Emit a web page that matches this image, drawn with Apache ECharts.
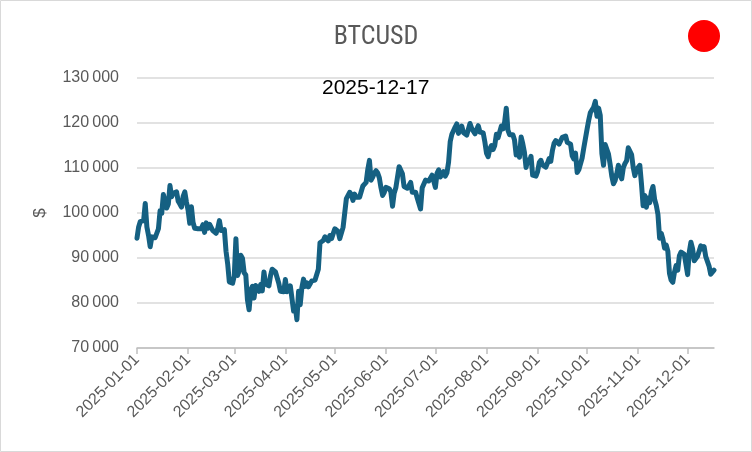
<!DOCTYPE html>
<html>
<head>
<meta charset="utf-8">
<script src="https://cdn.jsdelivr.net/npm/echarts@6/dist/echarts.min.js"></script>
<style>
  html, body { margin: 0; padding: 0; background: #fff; }
  #main { width: 752px; height: 452px; }
</style>
</head>
<body>
<div id="main"></div>
<script>
// daily closes, one array per month
var jan = [94400, 96900, 98100, 98200, 98300, 102100, 96900, 95000, 92500, 94700,
  94600, 94500, 94500, 96500, 100500, 99900, 104100, 104400, 101100, 102000,
  106100, 103600, 104400, 104700, 104700, 102600, 102000, 101300, 103700, 104700, 102400];
var feb = [100600, 97700, 101400, 97900, 96600, 96600, 96500, 96600, 96500, 97400,
  95700, 97800, 96600, 97500, 97600, 96100, 95800, 95500, 96600, 98300,
  96100, 96500, 96300, 91500, 88700, 84700, 84400, 84400];
var mar = [86000, 94300, 86100, 87200, 90600, 89900, 86700, 86200, 80700, 78500,
  82900, 83700, 81100, 83900, 84300, 82600, 84100, 82700, 86900, 84200,
  84000, 83800, 86100, 87500, 87400, 86900, 87200, 84400, 82600, 82300, 82500];
var apr = [85200, 82500, 83100, 83800, 83500, 78200, 79200, 76300, 82600, 79600,
  83400, 85300, 83700, 84500, 83600, 84000, 84900, 84500, 85100, 85100,
  87500, 93400, 93700, 93900, 94700, 94600, 93800, 95000, 94300, 94200];
var may = [96500, 96900, 95900, 94300, 94700, 96800, 97000, 103200, 102900, 104600,
  104100, 102800, 104200, 103500, 103700, 103500, 103200, 106000, 105600, 106800,
  109700, 111700, 107300, 108000, 108900, 109400, 108900, 107800, 105600, 103900, 104600];
var jun = [105700, 105900, 105400, 104700, 101500, 104400, 105600, 105800, 110300, 110300,
  108700, 105900, 106100, 105500, 105600, 106800, 104600, 104900, 104600, 103300,
  102100, 100900, 105600, 106000, 107300, 106900, 107100, 107300, 108400, 107100];
var jul = [105700, 108800, 109600, 108000, 108200, 109200, 108200, 108900, 111300, 115900,
  117500, 117400, 119100, 119800, 117700, 118700, 119300, 117900, 117900, 117300,
  117400, 119900, 118800, 118400, 117600, 117900, 119400, 118000, 117900, 117800, 115800];
var aug = [113300, 112500, 114200, 115000, 114100, 115000, 117500, 116700, 116500, 119300,
  118700, 120200, 123300, 118400, 117400, 117500, 117400, 116200, 112900, 114300,
  112400, 116900, 115400, 113500, 110100, 111800, 111300, 112600, 108400, 108800, 108200];
var sep = [109200, 111200, 111700, 110700, 110700, 110200, 111100, 112100, 111500, 113900,
  115500, 116100, 115900, 115300, 115400, 116800, 116500, 117100, 115700, 115700,
  115300, 112700, 112000, 113300, 109000, 109600, 109600, 112200, 114400, 114100];
var oct = [118600, 120600, 122300, 122400, 123500, 124800, 121500, 123300, 121700, 113200,
  110600, 115200, 115300, 113100, 110800, 108200, 106500, 107200, 108700, 110600,
  108500, 107600, 110100, 111000, 111600, 114500, 114100, 113000, 110100, 108300, 109600];
var nov = [110100, 110600, 106500, 101600, 103900, 101300, 103300, 102300, 104700, 105900,
  103000, 101700, 99700, 94400, 95500, 94200, 92200, 92900, 91500, 86600,
  85100, 84600, 86800, 88300, 87300, 90500, 91300, 90900, 90800, 90400];
var dec = [86300, 91300, 93500, 92100, 89400, 89300, 90400, 90600, 92700, 92000,
  92500, 90300, 90300, 88200, 86400, 86500, 87300];

var closes = [].concat(jan, feb, mar, apr, may, jun, jul, aug, sep, oct, nov, dec);

// one date per close, starting 2025-01-01
var dates = [];
for (var i = 0; i < closes.length; i++) {
  var d = new Date(Date.UTC(2025, 0, 1 + i));
  dates.push(d.toISOString().slice(0, 10));
}

var yTicks = { min: 70000, max: 130000, step: 10000 };

function isMonthStart(index, value) {
  return value.slice(8) === '01';
}

var grey = '#595959';
var myChart = echarts.init(document.getElementById('main'));
myChart.setOption({
  animation: false,
  title: {
    text: 'BTCUSD',
    left: 'center',
    top: 19,
    textStyle: { color: grey, fontSize: 26, fontWeight: 'normal', fontFamily: '"Liberation Sans Narrow", "Roboto Condensed", "Liberation Sans"' }
  },
  graphic: [
    {
      type: 'rect',
      shape: { x: 0.5, y: 0.5, width: 751, height: 451 },
      style: { fill: 'none', stroke: '#d9d9d9', lineWidth: 1 },
      silent: true
    },
    {
      type: 'circle',
      shape: { cx: 704, cy: 36, r: 16 },
      style: { fill: '#ff0000' }
    },
    {
      type: 'text',
      left: 322,
      top: 78,
      style: { text: dates[dates.length - 1], fill: '#000', fontSize: 21, fontFamily: 'Liberation Sans' }
    }
  ],
  grid: { left: 137, right: 38, top: 78, bottom: 104, containLabel: false },
  xAxis: {
    type: 'category',
    data: dates,
    boundaryGap: false,
    axisLine: { lineStyle: { color: '#bfbfbf', width: 1.5 } },
    axisTick: { interval: isMonthStart, length: 6, lineStyle: { color: '#bfbfbf', width: 1.5 } },
    axisLabel: {
      interval: isMonthStart,
      rotate: 45,
      margin: 9,
      color: grey,
      fontSize: 16,
      fontFamily: 'Liberation Sans'
    },
    splitLine: { show: false }
  },
  yAxis: {
    type: 'value',
    min: yTicks.min,
    max: yTicks.max,
    interval: yTicks.step,
    name: '$',
    nameLocation: 'middle',
    nameGap: 88,
    nameTextStyle: { color: grey, fontSize: 17, fontFamily: 'Liberation Sans' },
    axisLine: { show: false },
    axisTick: { show: false },
    axisLabel: {
      color: grey,
      fontSize: 16,
      margin: 18,
      fontFamily: 'Liberation Sans',
      formatter: function (v) {
        return String(v).replace(/\B(?=(\d{3})+(?!\d))/g, '\u2009');
      }
    },
    splitLine: { lineStyle: { color: '#d9d9d9', width: 1.5 } }
  },
  series: [{
    name: 'BTCUSD',
    type: 'line',
    data: closes,
    showSymbol: false,
    lineStyle: { color: '#156082', width: 5, cap: 'round', join: 'round' }
  }]
});
</script>
</body>
</html>
